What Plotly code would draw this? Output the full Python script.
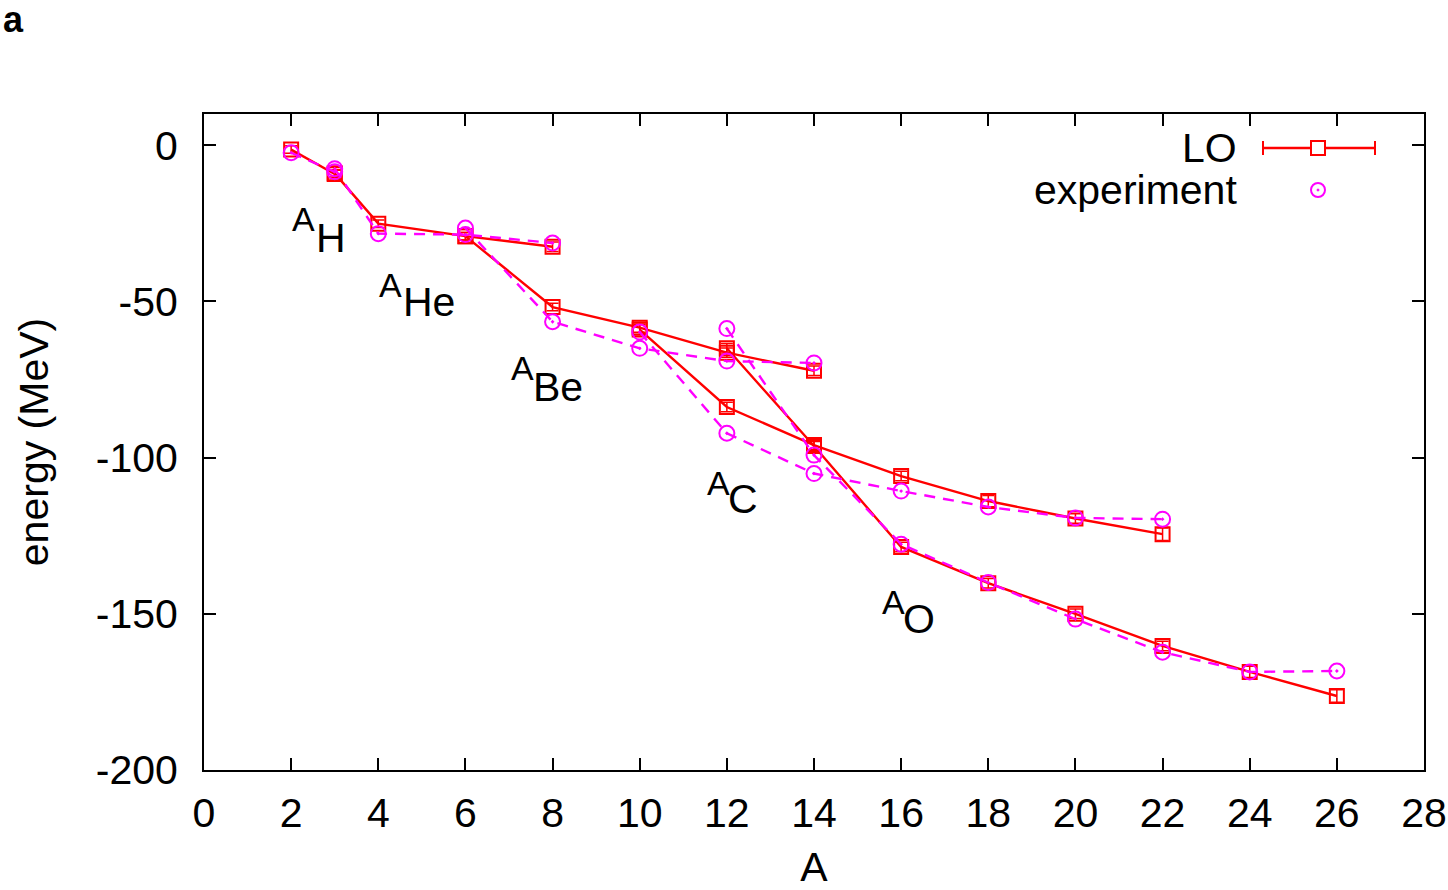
import plotly.graph_objects as go

# ---- data ----
A_H = [2, 3]
LO_H = [-1.4, -9.2]
ERR_H = [1.2, 1.2]
EXP_H = [-2.4, -8.5]

A_He = [3, 4, 6, 8]
LO_He = [-9.0, -25.1, -29.1, -32.5]
ERR_He = [1.2, 1.2, 1.2, 1.5]
EXP_He = [-7.5, -28.3, -28.6, -31.3]

A_Be = [6, 8, 10, 12, 14]
LO_Be = [-29.1, -51.8, -58.4, -66.4, -72.2]
ERR_Be = [1.2, 1.2, 1.5, 1.5, 1.5]
EXP_Be = [-26.5, -56.5, -65.0, -69.1, -69.7]

A_C = [10, 12, 14, 16, 18, 20, 22]
LO_C = [-59.0, -83.8, -96.0, -105.9, -113.9, -119.5, -124.5]
ERR_C = [1.5, 1.5, 1.5, 1.5, 1.8, 1.5, 2.0]
EXP_C = [-59.8, -92.2, -105.1, -110.7, -115.8, -119.3, -119.7]

A_O = [12, 14, 16, 18, 20, 22, 24, 26]
LO_O = [-65.0, -96.3, -128.6, -140.2, -150.0, -160.3, -168.6, -176.3]
ERR_O = [1.5, 1.5, 1.5, 1.5, 1.5, 1.5, 1.8, 2.0]
EXP_O = [-58.7, -99.2, -127.7, -140.0, -151.7, -162.3, -168.6, -168.3]

chains = [
    (A_H, LO_H, ERR_H, EXP_H),
    (A_He, LO_He, ERR_He, EXP_He),
    (A_Be, LO_Be, ERR_Be, EXP_Be),
    (A_C, LO_C, ERR_C, EXP_C),
    (A_O, LO_O, ERR_O, EXP_O),
]

Y_TICKS = [-200, -150, -100, -50, 0]
Y_TICKTEXT = ["-200", "-150", "-100", "-50", "0"]

# element labels: superscript "A" position and element symbol position (data units)
labels = [
    ("H", 1.97, -23.6, 2.52, -29.6),
    ("He", 3.97, -44.8, 4.52, -50.2),
    ("Be", 7.0, -71.3, 7.5, -77.4),
    ("C", 11.49, -108.1, 11.98, -113.3),
    ("O", 15.51, -146.2, 15.99, -151.7),
]

RED = "#ff0000"
MAG = "#ff00ff"
FONT = "Liberation Sans, Arial, Helvetica, sans-serif"

fig = go.Figure()

for A, lo, err, ex in chains:
    fig.add_trace(go.Scatter(
        x=A, y=lo, mode="lines+markers",
        line=dict(color=RED, width=2.4),
        marker=dict(symbol="square-open", size=14, color=RED, line=dict(width=2)),
        error_y=dict(type="data", array=err, visible=True, color=RED, thickness=1.5, width=6),
        showlegend=False, hoverinfo="skip",
    ))
for A, lo, err, ex in chains:
    fig.add_trace(go.Scatter(
        x=A, y=ex, mode="lines+markers",
        line=dict(color=MAG, width=2.4, dash="11px,8px"),
        marker=dict(symbol="circle-open-dot", size=15, color=MAG, line=dict(width=2)),
        showlegend=False, hoverinfo="skip",
    ))

for name, xa, ya, xs, ys in labels:
    fig.add_annotation(x=xa, y=ya, text="A", showarrow=False, xanchor="left", yanchor="middle",
                       font=dict(family=FONT, size=34, color="black"))
    fig.add_annotation(x=xs, y=ys, text=name, showarrow=False, xanchor="left", yanchor="middle",
                       font=dict(family=FONT, size=41, color="black"))

# ---- key (gnuplot style, drawn in paper coordinates) ----
L, R, T, B = 204, 1424, 114, 770
def px(x):
    return (x - L) / (R - L)
def py(y):
    return (B - y) / (B - T)

fig.add_annotation(xref="paper", yref="paper", x=px(1239), y=py(148), text="LO", showarrow=False,
                   xanchor="right", yanchor="middle", font=dict(family=FONT, size=41, color="black"))
fig.add_annotation(xref="paper", yref="paper", x=px(1239), y=py(190), text="experiment", showarrow=False,
                   xanchor="right", yanchor="middle", font=dict(family=FONT, size=41, color="black"))
fig.add_shape(type="line", xref="paper", yref="paper", x0=px(1263), x1=px(1375), y0=py(148), y1=py(148),
              line=dict(color=RED, width=2.4))
for cx in (1263, 1375):
    fig.add_shape(type="line", xref="paper", yref="paper", x0=px(cx), x1=px(cx), y0=py(141), y1=py(155),
                  line=dict(color=RED, width=2))
fig.add_shape(type="rect", xref="paper", yref="paper", x0=px(1311), x1=px(1325), y0=py(141), y1=py(155),
              line=dict(color=RED, width=2), fillcolor="white")
fig.add_shape(type="circle", xref="paper", yref="paper", x0=px(1311), x1=px(1325), y0=py(183), y1=py(197),
              line=dict(color=MAG, width=2), fillcolor="rgba(0,0,0,0)")
fig.add_shape(type="circle", xref="paper", yref="paper", x0=px(1317), x1=px(1319), y0=py(189), y1=py(191),
              line=dict(color=MAG, width=1), fillcolor=MAG)

# panel letter
fig.add_annotation(xref="paper", yref="paper", x=px(1), y=py(19), text="<b>a</b>", showarrow=False,
                   xanchor="left", yanchor="middle", font=dict(family=FONT, size=36, color="black"))

axis_common = dict(
    showgrid=False, zeroline=False, showline=True, linecolor="black", linewidth=2,
    mirror="ticks", ticks="inside", ticklen=12, tickwidth=1.5, tickcolor="black",
    tickfont=dict(family=FONT, size=41, color="black"), automargin=False,
)

fig.update_layout(
    width=1448, height=890,
    margin=dict(l=204, r=24, t=114, b=120),
    paper_bgcolor="white", plot_bgcolor="white",
    font=dict(family=FONT, color="black"),
    xaxis=dict(range=[0, 28], tickmode="linear", tick0=0, dtick=2,
               title=dict(text="A", font=dict(family=FONT, size=41), standoff=29),
               ticklabelstandoff=6, **axis_common),
    yaxis=dict(range=[-200, 10], tickvals=Y_TICKS, ticktext=Y_TICKTEXT,
               title=dict(text="energy (MeV)", font=dict(family=FONT, size=41), standoff=34),
               ticklabelstandoff=16, **axis_common),
)

fig.write_html("out.html")
